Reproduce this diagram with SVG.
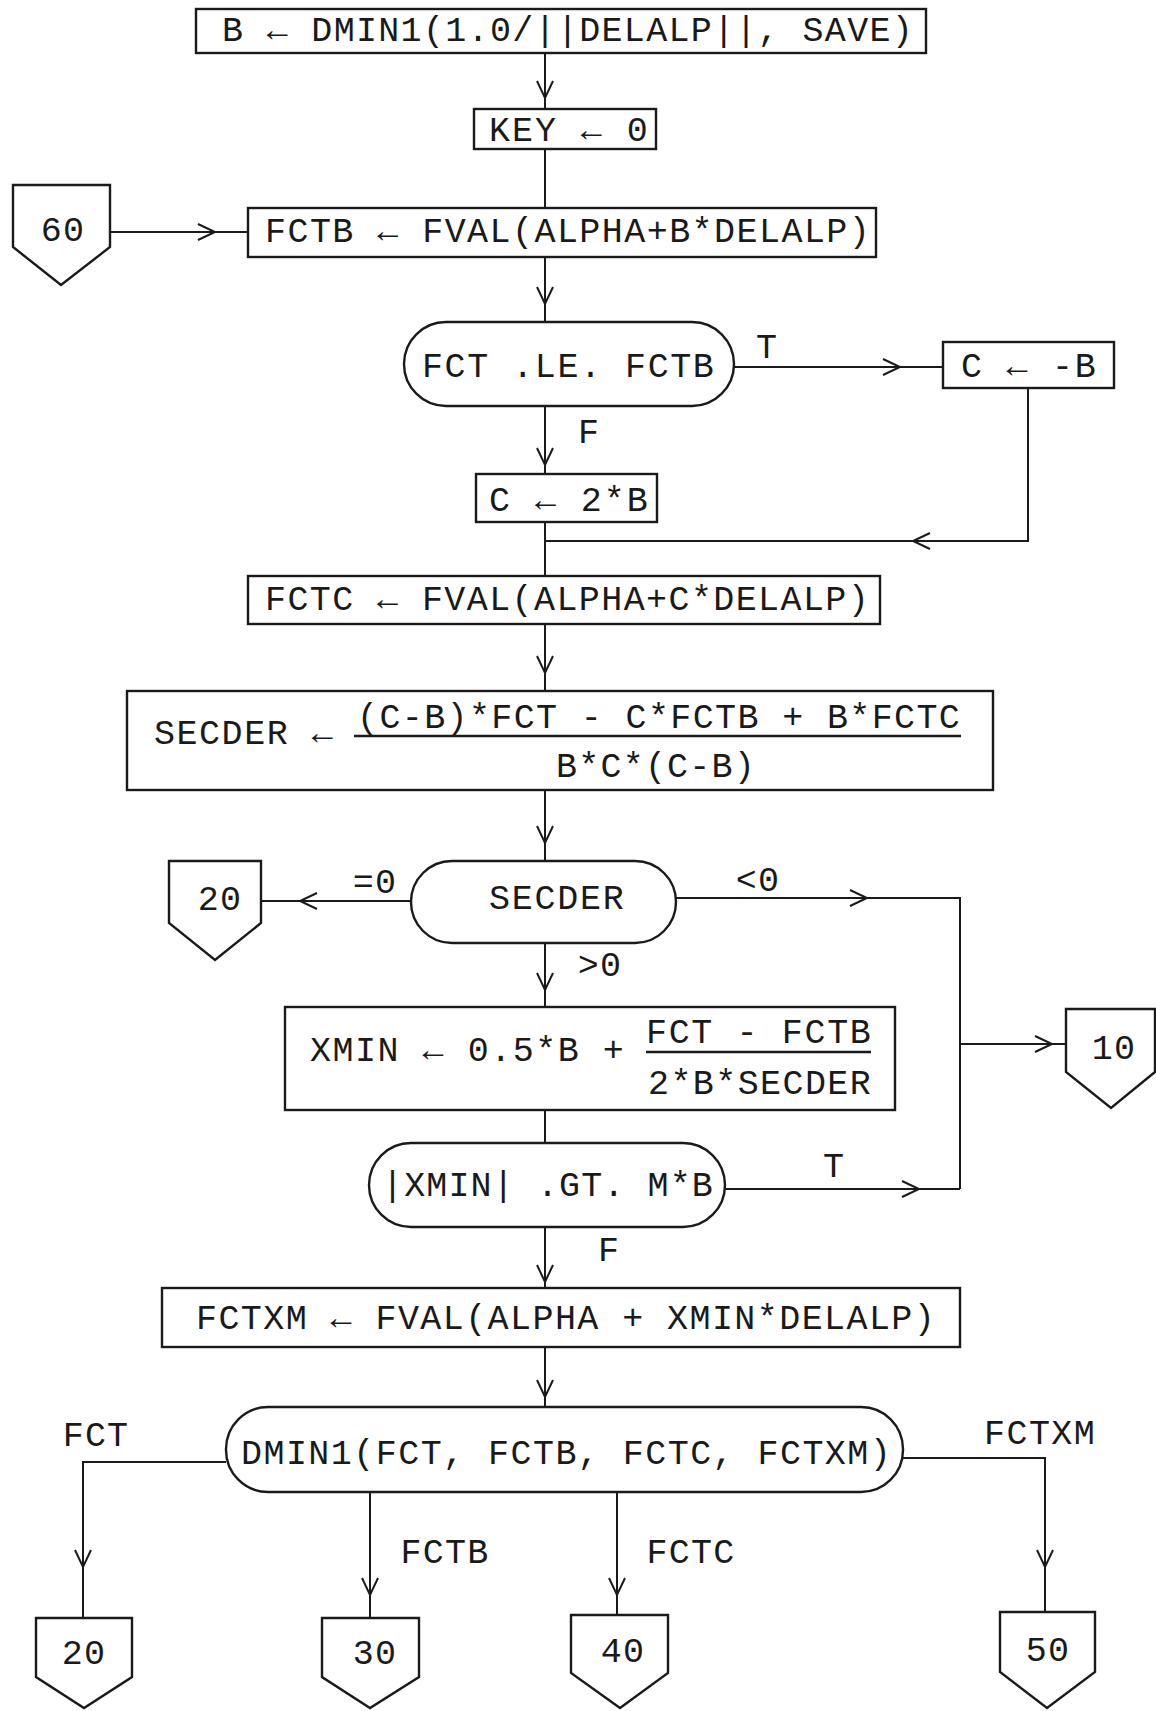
<svg xmlns="http://www.w3.org/2000/svg" width="1156" height="1711" viewBox="0 0 1156 1711">
<style>
.b{fill:#fff;stroke:#1a1a1a;stroke-width:2.4}
.t{font-family:"Liberation Mono","DejaVu Sans Mono",monospace;font-size:35px;fill:#1a1a1a;letter-spacing:1.2px}
.m{text-anchor:middle}
.c{fill:none;stroke:#1a1a1a;stroke-width:2}
.a{marker-end:url(#arr)}
.f{stroke:#1a1a1a;stroke-width:2.4}
</style>
<defs>
<marker id="arr" markerWidth="20" markerHeight="20" viewBox="-19 -10 20 20" refX="0" refY="0" orient="auto" markerUnits="userSpaceOnUse" overflow="visible">
<path d="M-17,-8 L0,0 L-17,8" fill="none" stroke="#1a1a1a" stroke-width="2"/>
</marker>
</defs>
<rect width="1156" height="1711" fill="#fff"/>
<g id="connectors">
<path class="c a" d="M545,53 V98"/><path class="c" d="M545,98 V109"/>
<path class="c" d="M545,149 V208"/>
<path class="c a" d="M110,232 H215"/><path class="c" d="M215,232 H248"/>
<path class="c a" d="M545,257 V304"/><path class="c" d="M545,304 V322"/>
<path class="c a" d="M734,367 H900"/><path class="c" d="M900,367 H943"/>
<path class="c a" d="M545,406 V465"/><path class="c" d="M545,465 V474"/>
<path class="c a" d="M1028,388 V541 H913"/><path class="c" d="M913,541 H545"/>
<path class="c" d="M545,522 V576"/>
<path class="c a" d="M545,624 V673"/><path class="c" d="M545,673 V691"/>
<path class="c a" d="M545,790 V843"/><path class="c" d="M545,843 V861"/>
<path class="c a" d="M411,901 H300"/><path class="c" d="M300,901 H261"/>
<path class="c a" d="M676,898 H867"/><path class="c" d="M867,898 H960 V1189"/>
<path class="c a" d="M725,1189 H919"/><path class="c" d="M919,1189 H960"/>
<path class="c a" d="M960,1044 H1052"/><path class="c" d="M1052,1044 H1066"/>
<path class="c a" d="M545,943 V990"/><path class="c" d="M545,990 V1007"/>
<path class="c" d="M545,1110 V1143"/>
<path class="c a" d="M545,1227 V1282"/><path class="c" d="M545,1282 V1288"/>
<path class="c a" d="M545,1347 V1397"/><path class="c" d="M545,1397 V1407"/>
<path class="c a" d="M226,1462 H83 V1567"/><path class="c" d="M83,1567 V1618"/>
<path class="c a" d="M370,1492 V1595"/><path class="c" d="M370,1595 V1618"/>
<path class="c a" d="M617,1492 V1595"/><path class="c" d="M617,1595 V1615"/>
<path class="c a" d="M903,1458 H1045 V1567"/><path class="c" d="M1045,1567 V1612"/>
<text class="t m" x="767" y="358">T</text>
<text class="t m" x="589" y="443">F</text>
<text class="t m" x="375" y="893">=0</text>
<text class="t m" x="758" y="891">&lt;0</text>
<text class="t m" x="600" y="976">&gt;0</text>
<text class="t m" x="834" y="1177">T</text>
<text class="t m" x="609" y="1261">F</text>
<text class="t m" x="96" y="1446">FCT</text>
<text class="t m" x="445" y="1563">FCTB</text>
<text class="t m" x="691" y="1563">FCTC</text>
<text class="t" x="984" y="1444" textLength="112">FCTXM</text>
</g>
<g id="n1"><rect class="b" x="196" y="9" width="730" height="44"/>
<text class="t" x="222" y="41" textLength="692">B ← DMIN1(1.0/||DELALP||, SAVE)</text></g>
<g id="n2"><rect class="b" x="474" y="109" width="182" height="40"/>
<text class="t" x="489" y="141" textLength="160">KEY ← 0</text></g>
<g id="n3"><rect class="b" x="248" y="208" width="628" height="49"/>
<text class="t" x="265" y="242" textLength="606">FCTB ← FVAL(ALPHA+B*DELALP)</text></g>
<g id="n4"><path class="b" d="M13,185 H110 V247 L61,285 L13,247 Z"/>
<text class="t m" x="63" y="241">60</text></g>
<g id="n5"><rect class="b" x="404" y="322" width="330" height="84" rx="42" ry="42"/>
<text class="t" x="422" y="377" textLength="293">FCT .LE. FCTB</text></g>
<g id="n6"><rect class="b" x="943" y="342" width="171" height="46"/>
<text class="t" x="961" y="377" textLength="136">C ← -B</text></g>
<g id="n7"><rect class="b" x="476" y="474" width="181" height="48"/>
<text class="t" x="489" y="511" textLength="160">C ← 2*B</text></g>
<g id="n8"><rect class="b" x="248" y="576" width="632" height="48"/>
<text class="t" x="265" y="610" textLength="605">FCTC ← FVAL(ALPHA+C*DELALP)</text></g>
<g id="n9"><rect class="b" x="127" y="691" width="866" height="99"/>
<text class="t" x="154" y="744" textLength="180">SECDER ←</text>
<text class="t" x="357" y="728" textLength="604">(C-B)*FCT - C*FCTB + B*FCTC</text>
<line class="f" x1="354" y1="736" x2="961" y2="736"/>
<text class="t" x="556" y="777" textLength="200">B*C*(C-B)</text></g>
<g id="n10"><rect class="b" x="411" y="861" width="265" height="82" rx="41" ry="41"/>
<text class="t" x="489" y="909" textLength="136">SECDER</text></g>
<g id="n11"><path class="b" d="M169,861 H261 V923 L215,960 L169,923 Z"/>
<text class="t m" x="220" y="910">20</text></g>
<g id="n12"><rect class="b" x="285" y="1007" width="610" height="103"/>
<text class="t" x="310" y="1061" textLength="315">XMIN ← 0.5*B +</text>
<text class="t" x="646" y="1043" textLength="226">FCT - FCTB</text>
<line class="f" x1="646" y1="1052" x2="871" y2="1052"/>
<text class="t" x="648" y="1094" textLength="224">2*B*SECDER</text></g>
<g id="n13"><path class="b" d="M1066,1009 H1155 V1072 L1111,1108 L1066,1072 Z"/>
<text class="t m" x="1114" y="1059">10</text></g>
<g id="n14"><rect class="b" x="369" y="1143" width="356" height="84" rx="42" ry="42"/>
<text class="t" x="382" y="1196" textLength="332">|XMIN| .GT. M*B</text></g>
<g id="n15"><rect class="b" x="162" y="1288" width="798" height="59"/>
<text class="t" x="196" y="1329" textLength="740">FCTXM ← FVAL(ALPHA + XMIN*DELALP)</text></g>
<g id="n16"><rect class="b" x="226" y="1407" width="677" height="85" rx="42" ry="42"/>
<text class="t" x="241" y="1464" textLength="651">DMIN1(FCT, FCTB, FCTC, FCTXM)</text></g>
<g id="n17"><path class="b" d="M36,1618 H132 V1677 L84,1708 L36,1677 Z"/>
<text class="t m" x="84" y="1664">20</text></g>
<g id="n18"><path class="b" d="M322,1618 H419 V1677 L370,1708 L322,1677 Z"/>
<text class="t m" x="375" y="1664">30</text></g>
<g id="n19"><path class="b" d="M571,1615 H668 V1673 L620,1708 L571,1673 Z"/>
<text class="t m" x="623" y="1662">40</text></g>
<g id="n20"><path class="b" d="M1000,1612 H1095 V1672 L1047,1708 L1000,1672 Z"/>
<text class="t m" x="1048" y="1661">50</text></g>
</svg>
